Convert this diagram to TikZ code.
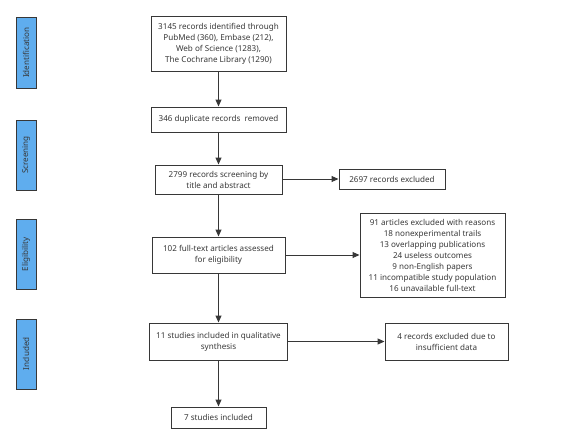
\documentclass[tikz,border=0pt]{standalone}
\usepackage{fontspec}
\setmainfont{Noto Sans}
\usetikzlibrary{arrows.meta}
\definecolor{sideblue}{RGB}{95,173,238}
\definecolor{linegray}{RGB}{55,55,55}
\definecolor{textgray}{RGB}{55,55,55}
\tikzset{
  box/.style={draw=linegray, line width=1pt, fill=white, rectangle, inner sep=0pt, align=center,
    text=textgray, font=\fontsize{8.1}{11}\selectfont},
  side/.style={draw=linegray, line width=1pt, fill=sideblue, rectangle, inner sep=0pt,
    text=textgray, font=\fontsize{8.1}{9}\selectfont, rotate=90},
  arr/.style={draw=linegray, line width=1pt, -{Triangle[length=7pt,width=6pt]}}
}
\begin{document}
\begin{tikzpicture}[x=1pt,y=-1pt]
\useasboundingbox (0,0) rectangle (570,445);
% side labels
\node[side, minimum height=20pt, minimum width=71pt] (s1) at (26,52.5) {Identification};
\node[side, minimum height=20pt, minimum width=70pt] (s2) at (26,155) {Screening};
\node[side, minimum height=20pt, minimum width=70pt] (s3) at (26,254) {Eligibility};
\node[side, minimum height=20pt, minimum width=70pt] (s4) at (26,354) {Included};
% main boxes
\node[box, minimum width=135pt, minimum height=55pt] (b1) at (218.5,43.5) {3145 records identified through\\PubMed (360), Embase (212),\\Web of Science (1283),\\The Cochrane Library (1290)};
\node[box, minimum width=135pt, minimum height=25pt] (b2) at (218.5,119.5) {346 duplicate records\ \ removed};
\node[box, minimum width=127pt, minimum height=29pt] (b3) at (218.5,179.5) {2799 records screening by\\title and abstract};
\node[box, minimum width=106pt, minimum height=20pt] (e1) at (392,179) {2697 records excluded};
\node[box, minimum width=133pt, minimum height=36pt] (b4) at (218.5,255) {102 full-text articles assessed\\for eligibility};
\node[box, minimum width=145pt, minimum height=84pt] (e2) at (432.5,255) {91 articles excluded with reasons\\18 nonexperimental trails\\13 overlapping publications\\24 useless outcomes\\9 non-English papers\\11 incompatible study population\\16 unavailable full-text};
\node[box, minimum width=138pt, minimum height=37pt] (b5) at (218.5,341.5) {11 studies included in qualitative\\synthesis};
\node[box, minimum width=123pt, minimum height=37pt] (e3) at (446.5,341.5) {4 records excluded due to\\insufficient data};
\node[box, minimum width=95pt, minimum height=21pt] (b6) at (218.5,417.5) {7 studies included};
% arrows
\draw[arr] (b1) -- (b2);
\draw[arr] (b2) -- (b3);
\draw[arr] (b3) -- (b4);
\draw[arr] (b4) -- (b5);
\draw[arr] (b5) -- (b6);
\draw[arr] (b3.east |- e1.west) -- (e1.west);
\draw[arr] (b4.east) -- (e2.west);
\draw[arr] (b5.east) -- (e3.west);
\end{tikzpicture}
\end{document}
